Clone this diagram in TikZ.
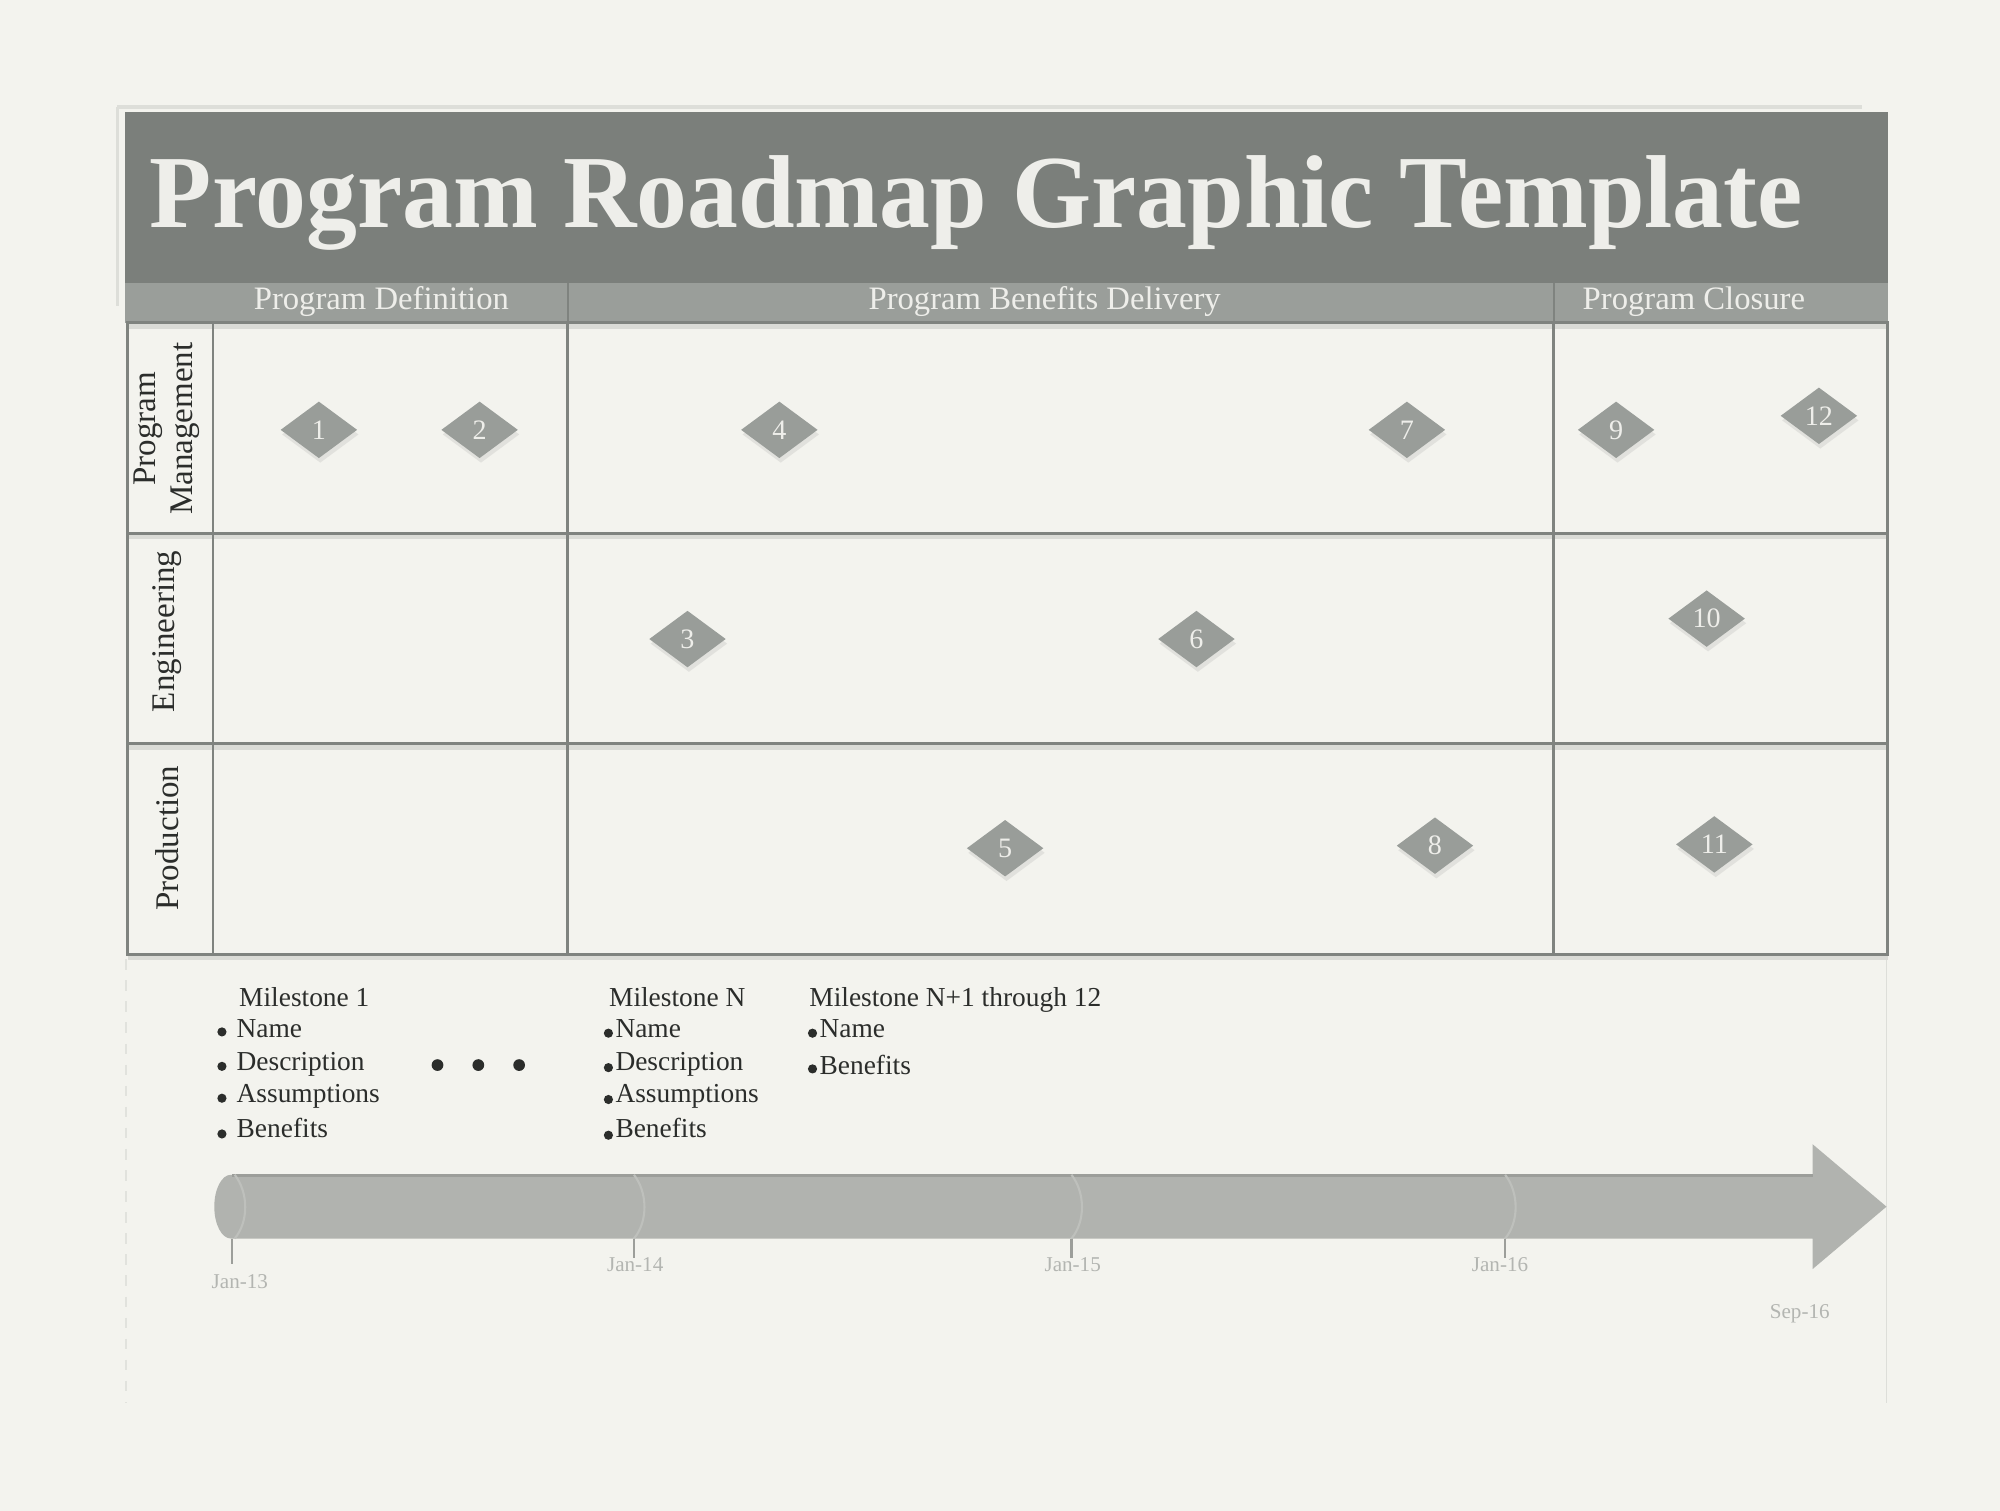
\documentclass[tikz,border=0pt]{standalone}
\usepackage{fontspec}
\setmainfont{Liberation Serif}
\usetikzlibrary{shapes.geometric,shadows}
\definecolor{bg}{HTML}{F3F3EE}
\definecolor{titlebg}{HTML}{7B7F7B}
\definecolor{phasebg}{HTML}{9A9E9A}
\definecolor{gridc}{HTML}{7F837F}
\definecolor{gridsh}{HTML}{DADBD6}
\definecolor{dia}{HTML}{999D99}
\definecolor{lighttext}{HTML}{EEEEEA}
\definecolor{darktext}{HTML}{2B2D2B}
\definecolor{arrowc}{HTML}{B1B3AF}
\definecolor{arrowedge}{HTML}{9C9E9A}
\definecolor{seamc}{HTML}{BEC0BC}
\definecolor{datec}{HTML}{B3B5B1}
\definecolor{framec}{HTML}{DDDED9}
\tikzset{
  gridline/.style={draw=gridc, line width=0.8pt},
  gridshadow/.style={draw=gridsh, line width=1.2pt},
  ms/.style={diamond, fill=dia, text=lighttext, minimum width=0.77cm, minimum height=0.57cm, inner sep=0pt,
    font=\fontsize{8}{8}\selectfont,
    drop shadow={opacity=0.15, shadow xshift=0.4pt, shadow yshift=-1.3pt}},
  phaselabel/.style={anchor=base, text=lighttext, font=\fontsize{9.3}{10}\selectfont},
  rowlabel/.style={rotate=90, align=center, text=darktext, font=\fontsize{9.4}{10.5}\selectfont},
  mstext/.style={anchor=base west, text=darktext, inner sep=0pt, font=\fontsize{7.8}{8}\selectfont},
  datelabel/.style={anchor=base, text=datec, inner sep=0pt, font=\fontsize{6}{6}\selectfont},
  tick/.style={draw=arrowedge, line width=0.6pt},
  seam/.style={draw=seamc, line width=0.6pt},
  bulletdot/.style={fill=darktext}
}
\begin{document}
\begin{tikzpicture}[x=0.012755cm,y=-0.012755cm]
\fill[bg] (0,0) rectangle (1568,1184.6);
\useasboundingbox (0,0) rectangle (1568,1184.6);

% faint page frame
\draw[framec, line width=1pt] (92,84) -- (1460,84);
\draw[framec, line width=1pt] (92,84) -- (92,240);
\draw[framec!80!bg, line width=0.6pt, dashed] (99,752) -- (99,1100);
\draw[framec, line width=0.5pt] (1479,752) -- (1479,1100);

% title band
\fill[titlebg] (98,88) rectangle (1480,222);
\node[anchor=base west, text=lighttext, inner sep=0pt, xscale=0.981, font=\fontsize{29.5}{30}\selectfont\bfseries] (title) at (117,178) {Program Roadmap Graphic Template};

% phase band
\fill[phasebg] (98,222) rectangle (1480,253);
\draw[gridc, line width=0.6pt] (445,222) -- (445,253);
\draw[gridc, line width=0.6pt] (1218,222) -- (1218,253);
\node[phaselabel] (ph1) at (299,243) {Program Definition};
\node[phaselabel] (ph2) at (819,243) {Program Benefits Delivery};
\node[phaselabel] (ph3) at (1328,243) {Program Closure};

% grid shadows
\draw[gridshadow] (100,256) -- (1480,256);
\draw[gridshadow] (100,421) -- (1480,421);
\draw[gridshadow] (100,586) -- (1480,586);
\draw[gridshadow] (100,751) -- (1480,751);

% grid
\draw[gridline] (100,253) rectangle (1480,748);
\draw[gridline] (100,418) -- (1480,418);
\draw[gridline] (100,583) -- (1480,583);
\draw[gridline] (167,253) -- (167,748);
\draw[gridline] (445,253) -- (445,748);
\draw[gridline] (1218,253) -- (1218,748);

% row labels
\node[rowlabel] (r1) at (131,336) {Program\\Management};
\node[rowlabel] (r2) at (131,495) {Engineering};
\node[rowlabel] (r3) at (131,657) {Production};

% milestones
\node[ms] (m1) at (250,337) {1};
\node[ms] (m2) at (376,337) {2};
\node[ms] (m4) at (611,337) {4};
\node[ms] (m7) at (1103,337) {7};
\node[ms] (m9) at (1267,337) {9};
\node[ms] (m12) at (1426,326) {12};
\node[ms] (m3) at (539,501) {3};
\node[ms] (m6) at (938,501) {6};
\node[ms] (m10) at (1338,485) {10};
\node[ms] (m5) at (788,665) {5};
\node[ms] (m8) at (1125,663) {8};
\node[ms] (m11) at (1344,662) {11};

% milestone descriptions
\node[mstext] (t1) at (187,789) {Milestone 1};
\node[mstext] (t1a) at (185,813) {Name};
\node[mstext] (t1b) at (185,839) {Description};
\node[mstext] (t1c) at (185,864) {Assumptions};
\node[mstext] (t1d) at (185,892) {Benefits};
\fill[bulletdot] (174,809) circle[radius=3.6];
\fill[bulletdot] (174,836) circle[radius=3.6];
\fill[bulletdot] (174,861) circle[radius=3.6];
\fill[bulletdot] (174,889) circle[radius=3.6];

\fill[bulletdot] (343,835) circle[radius=4.6];
\fill[bulletdot] (375,835) circle[radius=4.6];
\fill[bulletdot] (407,835) circle[radius=4.6];

\node[mstext] (t2) at (477,789) {Milestone N};
\node[mstext] (t2a) at (482,813) {Name};
\node[mstext] (t2b) at (482,839) {Description};
\node[mstext] (t2c) at (482,864) {Assumptions};
\node[mstext] (t2d) at (482,892) {Benefits};
\fill[bulletdot] (477,810) circle[radius=3.6];
\fill[bulletdot] (477,837) circle[radius=3.6];
\fill[bulletdot] (477,862) circle[radius=3.6];
\fill[bulletdot] (477,890) circle[radius=3.6];

\node[mstext] (t3) at (634,789) {Milestone N+1 through 12};
\node[mstext] (t3a) at (642,813) {Name};
\node[mstext] (t3b) at (642,842) {Benefits};
\fill[bulletdot] (637,810) circle[radius=3.6];
\fill[bulletdot] (637,838) circle[radius=3.6];

% timeline arrow
\fill[arrowc] (181,921) -- (1421,921) -- (1421,897) -- (1479,946) -- (1421,995) -- (1421,971) -- (181,971)
  arc[start angle=90, end angle=270, x radius=13, y radius=25] -- cycle;
\draw[arrowedge, line width=0.9pt] (182,921.5) -- (1421,921.5);
\draw[seam] (184,921) .. controls (195,935) and (195,958) .. (184,971);
\draw[seam] (497,921) .. controls (508,935) and (508,958) .. (497,971);
\draw[seam] (840,921) .. controls (851,935) and (851,958) .. (840,971);
\draw[seam] (1180,921) .. controls (1191,935) and (1191,958) .. (1180,971);
\draw[tick] (182,971) -- (182,991);
\draw[tick] (497,971) -- (497,986);
\draw[tick] (840,971) -- (840,986);
\draw[tick] (1180,971) -- (1180,986);
\node[datelabel] (d1) at (188,1010) {Jan-13};
\node[datelabel] (d2) at (498,997) {Jan-14};
\node[datelabel] (d3) at (841,997) {Jan-15};
\node[datelabel] (d4) at (1176,997) {Jan-16};
\node[datelabel] (d5) at (1411,1034) {Sep-16};
\end{tikzpicture}
\end{document}
